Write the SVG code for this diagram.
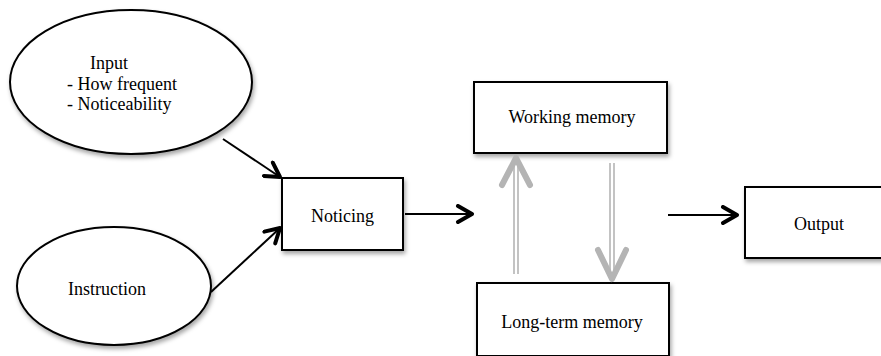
<svg xmlns="http://www.w3.org/2000/svg" width="881" height="356" viewBox="0 0 881 356">
<defs>
<filter id="sh" x="-10%" y="-10%" width="130%" height="140%">
<feDropShadow dx="1.5" dy="3" stdDeviation="2" flood-color="#000" flood-opacity="0.35"/>
</filter>
<marker id="ah" viewBox="0 0 20 20" refX="17" refY="10" markerWidth="20" markerHeight="20" markerUnits="userSpaceOnUse" orient="auto">
<path d="M3,2 L17,10 L3,18" fill="none" stroke="#000" stroke-width="4" stroke-linecap="round" stroke-linejoin="round"/>
</marker>
</defs>
<style>
.n{fill:#fff;stroke:#000;stroke-width:2;filter:url(#sh)}
.t{font-family:"Liberation Serif","Times New Roman",serif;font-size:18px;fill:#000}
.c{text-anchor:middle}
.a{fill:none;stroke:#000;stroke-width:2;marker-end:url(#ah)}
.g{fill:none;stroke:#b4b4b4;stroke-width:1.6}
.gh{fill:none;stroke:#b4b4b4;stroke-width:6;stroke-linecap:round;stroke-linejoin:round}
</style>
<g id="input">
<ellipse class="n" cx="131" cy="82" rx="121" ry="72"/>
<text class="t" x="90" y="69">Input</text>
<text class="t" x="67" y="90">- How frequent</text>
<text class="t" x="67" y="110">- Noticeability</text>
</g>
<g id="instruction">
<ellipse class="n" cx="114" cy="286" rx="97" ry="59"/>
<text class="t c" x="107" y="295">Instruction</text>
</g>
<g id="noticing">
<rect class="n" x="282" y="178" width="121" height="72"/>
<text class="t c" x="342.5" y="222">Noticing</text>
</g>
<g id="working-memory">
<rect class="n" x="474" y="82" width="193" height="71"/>
<text class="t c" x="572" y="123">Working memory</text>
</g>
<g id="long-term-memory">
<rect class="n" x="477" y="283" width="192" height="73"/>
<text class="t c" x="572" y="328">Long-term memory</text>
</g>
<g id="output">
<rect class="n" x="745" y="187" width="140" height="71"/>
<text class="t c" x="819" y="230">Output</text>
</g>
<g id="connectors">
<line class="a" x1="223" y1="139" x2="280" y2="177"/>
<line class="a" x1="211" y1="292" x2="280" y2="228"/>
<line class="a" x1="405" y1="214" x2="472" y2="214"/>
<line class="a" x1="668" y1="215" x2="737" y2="215"/>
<line class="g" x1="514" y1="160" x2="514" y2="274"/>
<line class="g" x1="518" y1="160" x2="518" y2="274"/>
<path class="gh" d="M502,185 L516,158 L530,185"/>
<line class="g" x1="610" y1="163" x2="610" y2="278"/>
<line class="g" x1="614" y1="163" x2="614" y2="278"/>
<path class="gh" d="M598,250 L612,279 L626,250"/>
</g>
</svg>
